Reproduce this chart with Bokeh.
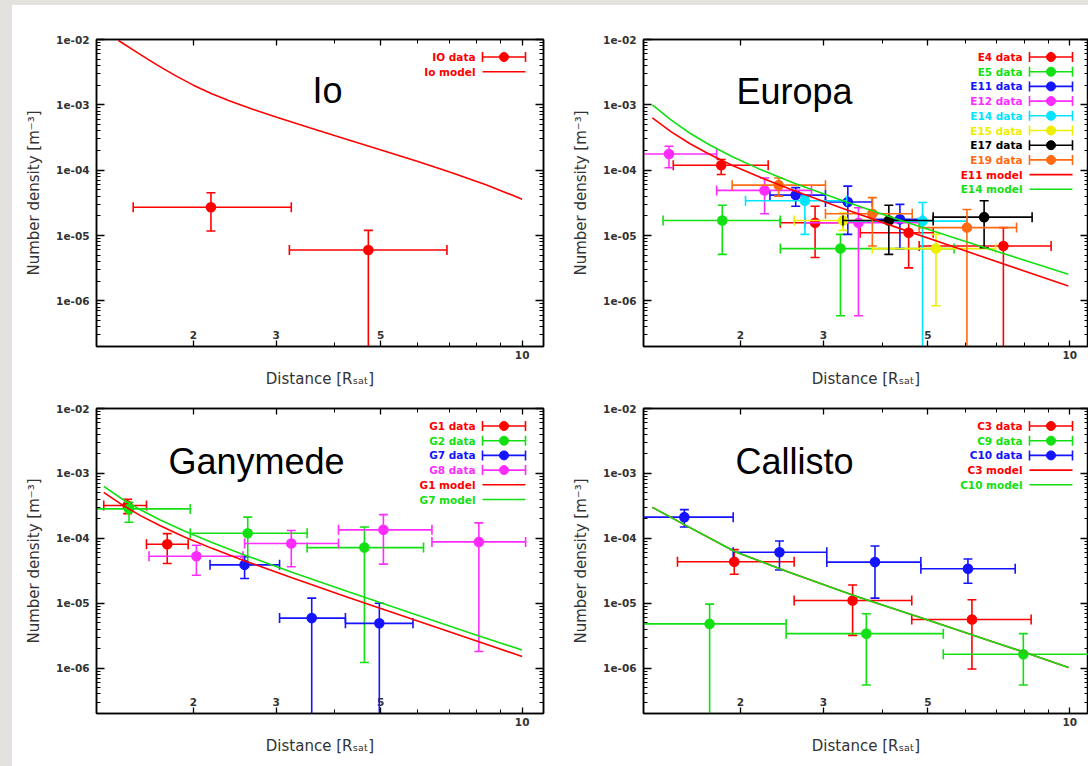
import math
from bokeh.plotting import figure
from bokeh.models import (Range1d, LinearScale, LogAxis, FixedTicker,
                          CustomJSTickFormatter, ColumnDataSource, Div)
from bokeh.layouts import row, column
from bokeh.core.properties import value
from bokeh.embed import file_html
from bokeh.resources import INLINE

# ------------------------------------------------------------------ data
X_START, X_END = 1.245, 11.1
Y_START, Y_END = 2e-7, 1e-2
X_MAJOR = [2, 3, 5, 10]
X_MINOR = [4, 6, 7, 8, 9]
X_INNER_LABELS = [2, 3, 5]
Y_MAJOR = [1e-6, 1e-5, 1e-4, 1e-3, 1e-2]
Y_MINOR = [k * 10.0 ** e for e in range(-7, -2) for k in range(2, 10)]

# --- Io
io_data_x = [2.18, 4.71]
io_data_xlo = [1.49, 3.20]
io_data_xhi = [3.23, 6.92]
io_data_y = [2.7e-5, 6.0e-6]
io_data_ylo = [1.17e-5, 1e-8]
io_data_yhi = [4.5e-5, 1.2e-5]
io_model_x = [1.386, 1.535, 1.670, 1.828, 2.0, 2.188, 2.399, 2.692, 3.02, 3.548,
              4.246, 5.012, 5.957, 7.063, 8.375, 10.0]
io_model_y = [9.66e-3, 6.03e-3, 4.12e-3, 2.82e-3, 2.0e-3, 1.48e-3, 1.135e-3, 8.41e-4,
              6.38e-4, 4.42e-4, 2.95e-4, 2.04e-4, 1.38e-4, 9.2e-5, 6.0e-5, 3.6e-5]

# --- Europa
e4_x = [1.82, 2.88, 4.55, 7.23]
e4_xlo = [1.44, 2.43, 3.59, 4.79]
e4_xhi = [2.29, 3.30, 5.13, 9.13]
e4_y = [1.19e-4, 1.57e-5, 1.10e-5, 6.9e-6]
e4_ylo = [8.6e-5, 4.6e-6, 3.2e-6, 1e-8]
e4_yhi = [1.46e-4, 2.8e-5, 1.66e-5, 1.32e-5]

e5_x = [1.83, 3.26]
e5_xlo = [1.37, 2.43]
e5_xhi = [2.43, 5.68]
e5_y = [1.70e-5, 6.3e-6]
e5_ylo = [5.15e-6, 5.9e-7]
e5_yhi = [2.9e-5, 1.04e-5]

e11_x = [2.62, 3.38, 4.36]
e11_xlo = [2.31, 3.03, 3.81]
e11_xhi = [3.03, 3.81, 4.87]
e11_y = [4.15e-5, 3.25e-5, 1.77e-5]
e11_ylo = [2.8e-5, 1.04e-5, 6.3e-6]
e11_yhi = [5.4e-5, 5.7e-5, 3.0e-5]

e12_x = [1.41, 2.25, 3.56]
e12_xlo = [1.2, 1.78, 2.74]
e12_xhi = [1.78, 2.83, 4.87]
e12_y = [1.77e-4, 4.9e-5, 1.57e-5]
e12_ylo = [1.09e-4, 2.15e-5, 5.9e-7]
e12_yhi = [2.32e-4, 7.6e-5, 2.66e-5]

e14_x = [2.74, 4.87]
e14_xlo = [2.05, 3.30]
e14_xhi = [3.36, 6.05]
e14_y = [3.4e-5, 1.66e-5]
e14_ylo = [1.04e-5, 1e-8]
e14_yhi = [4.0e-5, 3.2e-5]

e15_x = [3.30, 5.20]
e15_xlo = [2.60, 3.81]
e15_xhi = [3.81, 6.96]
e15_y = [1.70e-5, 6.3e-6]
e15_ylo = [1.2e-5, 8.4e-7]
e15_yhi = [2.2e-5, 1.04e-5]

e17_x = [4.13, 6.58]
e17_xlo = [3.30, 5.13]
e17_xhi = [5.13, 8.32]
e17_y = [1.70e-5, 1.91e-5]
e17_ylo = [5.15e-6, 6.5e-6]
e17_yhi = [2.9e-5, 3.4e-5]

e19_x = [2.41, 3.81, 6.05]
e19_xlo = [1.92, 3.03, 4.79]
e19_xhi = [3.03, 4.63, 7.71]
e19_y = [5.9e-5, 2.15e-5, 1.32e-5]
e19_ylo = [4.0e-5, 6.9e-6, 1e-8]
e19_yhi = [7.6e-5, 3.8e-5, 2.5e-5]

e11_model_x = [1.300, 1.426, 1.563, 1.714, 1.923, 2.208, 2.594, 3.266, 4.305, 5.808, 7.834, 9.931]
e11_model_y = [6.31e-4, 3.86e-4, 2.54e-4, 1.77e-4, 1.18e-4, 7.71e-5, 4.89e-5, 2.66e-5,
               1.32e-5, 6.30e-6, 3.02e-6, 1.69e-6]
e14_model_x = [1.300, 1.426, 1.563, 1.714, 1.923, 2.208, 2.594, 3.266, 4.305, 5.808, 7.834, 9.931]
e14_model_y = [1.0e-3, 5.82e-4, 3.67e-4, 2.47e-4, 1.60e-4, 1.02e-4, 6.37e-5, 3.48e-5,
               1.77e-5, 8.79e-6, 4.41e-6, 2.56e-6]

# --- Ganymede
g1_x = [1.45, 1.76]
g1_xlo = [1.29, 1.59]
g1_xhi = [1.59, 1.95]
g1_y = [3.2e-4, 8.1e-5]
g1_ylo = [2.4e-4, 4.1e-5]
g1_yhi = [4.0e-4, 1.18e-4]

g2_x = [1.46, 2.61, 4.62]
g2_xlo = [1.2, 1.97, 3.49]
g2_xhi = [1.97, 3.49, 6.17]
g2_y = [2.84e-4, 1.2e-4, 7.2e-5]
g2_ylo = [1.77e-4, 3.9e-5, 1.22e-6]
g2_yhi = [3.6e-4, 2.12e-4, 1.49e-4]

g7_x = [2.57, 3.57, 4.97]
g7_xlo = [2.17, 3.05, 4.21]
g7_xhi = [3.05, 4.21, 5.86]
g7_y = [3.9e-5, 5.9e-6, 4.9e-6]
g7_ylo = [2.4e-5, 1e-8, 1e-8]
g7_yhi = [5.2e-5, 1.2e-5, 1.0e-5]

g8_x = [2.03, 3.23, 5.07, 8.09]
g8_xlo = [1.61, 2.57, 4.07, 6.43]
g8_xhi = [2.55, 4.07, 6.43, 10.17]
g8_y = [5.3e-5, 8.3e-5, 1.35e-4, 8.8e-5]
g8_ylo = [2.7e-5, 3.65e-5, 4.0e-5, 1.8e-6]
g8_yhi = [7.8e-5, 1.32e-4, 2.32e-4, 1.73e-4]

g1_model_x = [1.290, 1.414, 1.551, 1.701, 1.909, 2.191, 2.574, 3.240, 4.272, 5.762, 7.774, 10.0]
g1_model_y = [5.1e-4, 3.24e-4, 2.20e-4, 1.56e-4, 1.06e-4, 7.0e-5, 4.49e-5, 2.46e-5,
              1.23e-5, 5.85e-6, 2.80e-6, 1.51e-6]
g7_model_x = [1.290, 1.414, 1.551, 1.701, 1.909, 2.191, 2.574, 3.240, 4.272, 5.762, 7.774, 10.0]
g7_model_y = [6.3e-4, 4.0e-4, 2.7e-4, 1.92e-4, 1.31e-4, 8.6e-5, 5.5e-5, 3.0e-5,
              1.5e-5, 7.2e-6, 3.45e-6, 1.9e-6]

# --- Callisto
c3_x = [1.94, 3.46, 6.20]
c3_xlo = [1.47, 2.60, 4.62]
c3_xhi = [2.60, 4.62, 8.28]
c3_y = [4.35e-5, 1.10e-5, 5.6e-6]
c3_ylo = [2.8e-5, 3.2e-6, 9.7e-7]
c3_yhi = [6.7e-5, 1.91e-5, 1.13e-5]

c9_x = [1.72, 3.70, 7.97]
c9_xlo = [1.2, 2.50, 5.39]
c9_xhi = [2.50, 5.39, 12.0]
c9_y = [4.8e-6, 3.4e-6, 1.64e-6]
c9_ylo = [1e-8, 5.5e-7, 5.5e-7]
c9_yhi = [9.7e-6, 6.9e-6, 3.4e-6]

c10_x = [1.52, 2.42, 3.86, 6.08]
c10_xlo = [1.2, 1.93, 3.05, 4.83]
c10_xhi = [1.93, 3.05, 4.83, 7.66]
c10_y = [2.12e-4, 6.1e-5, 4.3e-5, 3.4e-5]
c10_ylo = [1.49e-4, 3.25e-5, 1.2e-5, 2.03e-5]
c10_yhi = [2.77e-4, 9.1e-5, 7.6e-5, 4.8e-5]

c3_model_x = [1.30, 1.51, 1.95, 2.52, 3.53, 4.96, 6.96, 8.24, 9.94]
c3_model_y = [3.0e-4, 1.67e-4, 6.2e-5, 3.06e-5, 1.27e-5, 5.6e-6, 2.47e-6, 1.64e-6, 1.02e-6]
c10_model_x = [1.30, 1.51, 1.95, 2.52, 3.53, 4.96, 6.96, 8.24, 9.94]
c10_model_y = [3.0e-4, 1.67e-4, 6.2e-5, 3.06e-5, 1.27e-5, 5.6e-6, 2.47e-6, 1.64e-6, 1.02e-6]

# ------------------------------------------------------------------ style
RED, GREEN, BLUE = "#ff0000", "#12e012", "#1414ff"
MAGENTA, CYAN, YELLOW = "#ff2cff", "#00e4ff", "#eeee00"
BLACK, ORANGE = "#000000", "#ff6a12"
GRAY_BG = "#e4e2de"
TICK_FONT = "DejaVu Sans"

Y_FMT = """
const e = Math.round(Math.log10(tick));
const a = Math.abs(e);
return "1e" + (e < 0 ? "-" : "+") + (a < 10 ? "0" + a : "" + a);
"""


def style_axis(ax, tin, tmin):
    ax.axis_line_color = "black"
    ax.axis_line_width = 1.5
    ax.major_tick_in = tin
    ax.major_tick_out = 0
    ax.minor_tick_in = tmin
    ax.minor_tick_out = 0
    ax.major_tick_line_color = "black"
    ax.minor_tick_line_color = "black"
    ax.major_tick_line_width = 1.3
    ax.minor_tick_line_width = 1.0
    ax.major_label_text_font = TICK_FONT
    ax.major_label_text_font_size = "10.5px"
    ax.major_label_text_font_style = "bold"
    ax.major_label_text_color = "#333333"


def draw_series(p, x, xlo, xhi, y, ylo, yhi, color):
    src = ColumnDataSource(dict(x=x, xlo=xlo, xhi=xhi, y=y, ylo=ylo, yhi=yhi))
    kw = dict(source=src, line_color=color, line_width=1.6)
    p.segment(x0="xlo", y0="y", x1="xhi", y1="y", **kw)
    p.segment(x0="x", y0="ylo", x1="x", y1="yhi", **kw)
    p.scatter(x="xlo", y="y", marker="dash", angle=math.pi / 2, size=10, **kw)
    p.scatter(x="xhi", y="y", marker="dash", angle=math.pi / 2, size=10, **kw)
    p.scatter(x="x", y="ylo", marker="dash", size=9, **kw)
    p.scatter(x="x", y="yhi", marker="dash", size=9, **kw)
    p.scatter(x="x", y="y", marker="circle", size=9, fill_color=color, **kw)


# legend geometry (pixels inside the frame, from its left / top edge)
LEG_TX, LEG_C0, LEG_C1, LEG_Y0, LEG_DY = 379, 386, 429, 17.5, 14.7


def make_panel(width, height, mbl, mbr, mbt, mbb, x_end, title, tx, ty,
               data, models):
    fw = width - mbl - mbr
    fh = height - mbt - mbb
    p = figure(width=width, height=height, x_axis_type="log", y_axis_type="log",
               x_range=Range1d(X_START, x_end), y_range=Range1d(Y_START, Y_END),
               output_backend="svg", toolbar_location=None,
               min_border_left=mbl, min_border_right=mbr,
               min_border_top=mbt, min_border_bottom=mbb,
               x_axis_label="Distance [Rₛₐₜ]",
               y_axis_label="Number density [m⁻³]")
    p.extra_x_ranges = {"px": Range1d(0, fw)}
    p.extra_y_ranges = {"py": Range1d(fh, 0)}
    p.extra_x_scales = {"px": LinearScale()}
    p.extra_y_scales = {"py": LinearScale()}
    p.xgrid.visible = False
    p.ygrid.visible = False
    p.background_fill_color = "white"
    p.border_fill_color = "white"
    p.outline_line_color = "black"
    p.outline_line_width = 1.5

    xt = FixedTicker(ticks=X_MAJOR, minor_ticks=X_MINOR)
    yt = FixedTicker(ticks=Y_MAJOR, minor_ticks=Y_MINOR)
    xb = p.xaxis[0]
    yl = p.yaxis[0]
    xb.ticker = xt
    yl.ticker = yt
    xb.formatter = CustomJSTickFormatter(code="return tick == 10 ? '10' : '';")
    yl.formatter = CustomJSTickFormatter(code=Y_FMT)
    style_axis(xb, 6, 4)
    style_axis(yl, 8, 4)
    xb.major_label_standoff = 4
    yl.major_label_standoff = 7
    for ax in (xb, yl):
        ax.axis_label_text_font = TICK_FONT
        ax.axis_label_text_font_size = "15px"
        ax.axis_label_text_font_style = "normal"
        ax.axis_label_text_color = "#333333"
    xb.axis_label_standoff = 8
    yl.axis_label_standoff = 10

    top = LogAxis(ticker=xt, formatter=CustomJSTickFormatter(code="return '';"))
    right = LogAxis(ticker=yt, formatter=CustomJSTickFormatter(code="return '';"))
    for ax, tin in ((top, 6), (right, 8)):
        style_axis(ax, tin, 4)
        ax.major_label_text_font_size = "0px"
        ax.major_label_standoff = 0
    p.add_layout(top, "above")
    p.add_layout(right, "right")

    # tick labels that gnuplot put inside the frame
    p.text(x=X_INNER_LABELS, y=[fh - 12] * len(X_INNER_LABELS),
           text=[str(v) for v in X_INNER_LABELS], y_range_name="py",
           text_align="center", text_baseline="middle",
           text_font=value(TICK_FONT), text_font_size="10.5px",
           text_font_style="bold", text_color="#333333")

    for name, color, series in data:
        draw_series(p, *series, color)
    for name, color, (mx, my) in models:
        p.line(mx, my, line_color=color, line_width=1.6)

    # gnuplot-style key
    entries = [(n, c, "data") for n, c, _ in data] + [(n, c, "model") for n, c, _ in models]
    for i, (name, color, kind) in enumerate(entries):
        yy = LEG_Y0 + i * LEG_DY
        p.text(x=[LEG_TX], y=[yy], text=[name], x_range_name="px", y_range_name="py",
               text_align="right", text_baseline="middle", text_color=color,
               text_font=value(TICK_FONT), text_font_size="10.5px", text_font_style="bold")
        p.segment(x0=[LEG_C0], y0=[yy], x1=[LEG_C1], y1=[yy], x_range_name="px",
                  y_range_name="py", line_color=color, line_width=1.6)
        if kind == "data":
            p.scatter(x=[LEG_C0, LEG_C1], y=[yy, yy], marker="dash", angle=math.pi / 2,
                      size=10, line_color=color, line_width=1.6,
                      x_range_name="px", y_range_name="py")
            p.scatter(x=[(LEG_C0 + LEG_C1) / 2], y=[yy], marker="circle", size=9,
                      line_color=color, fill_color=color,
                      x_range_name="px", y_range_name="py")

    p.text(x=[tx], y=[ty], text=[title], x_range_name="px", y_range_name="py",
           text_align="center", text_baseline="alphabetic", text_color="black",
           text_font=value("Liberation Sans"), text_font_size="36px")
    return p


io = make_panel(538, 385, 84, 7, 34, 44, X_END, "Io", 231, 51,
                [("IO data", RED, (io_data_x, io_data_xlo, io_data_xhi, io_data_y, io_data_ylo, io_data_yhi))],
                [("Io model", RED, (io_model_x, io_model_y))])

europa = make_panel(538, 385, 93, 0, 34, 44, 10.96, "Europa", 151, 52,
                    [("E4 data", RED, (e4_x, e4_xlo, e4_xhi, e4_y, e4_ylo, e4_yhi)),
                     ("E5 data", GREEN, (e5_x, e5_xlo, e5_xhi, e5_y, e5_ylo, e5_yhi)),
                     ("E11 data", BLUE, (e11_x, e11_xlo, e11_xhi, e11_y, e11_ylo, e11_yhi)),
                     ("E12 data", MAGENTA, (e12_x, e12_xlo, e12_xhi, e12_y, e12_ylo, e12_yhi)),
                     ("E14 data", CYAN, (e14_x, e14_xlo, e14_xhi, e14_y, e14_ylo, e14_yhi)),
                     ("E15 data", YELLOW, (e15_x, e15_xlo, e15_xhi, e15_y, e15_ylo, e15_yhi)),
                     ("E17 data", BLACK, (e17_x, e17_xlo, e17_xhi, e17_y, e17_ylo, e17_yhi)),
                     ("E19 data", ORANGE, (e19_x, e19_xlo, e19_xhi, e19_y, e19_ylo, e19_yhi))],
                    [("E11 model", RED, (e11_model_x, e11_model_y)),
                     ("E14 model", GREEN, (e14_model_x, e14_model_y))])

ganymede = make_panel(538, 376, 84, 7, 18, 53, X_END, "Ganymede", 160, 53,
                      [("G1 data", RED, (g1_x, g1_xlo, g1_xhi, g1_y, g1_ylo, g1_yhi)),
                       ("G2 data", GREEN, (g2_x, g2_xlo, g2_xhi, g2_y, g2_ylo, g2_yhi)),
                       ("G7 data", BLUE, (g7_x, g7_xlo, g7_xhi, g7_y, g7_ylo, g7_yhi)),
                       ("G8 data", MAGENTA, (g8_x, g8_xlo, g8_xhi, g8_y, g8_ylo, g8_yhi))],
                      [("G1 model", RED, (g1_model_x, g1_model_y)),
                       ("G7 model", GREEN, (g7_model_x, g7_model_y))])

callisto = make_panel(538, 376, 93, 0, 18, 53, 10.96, "Callisto", 151, 53,
                      [("C3 data", RED, (c3_x, c3_xlo, c3_xhi, c3_y, c3_ylo, c3_yhi)),
                       ("C9 data", GREEN, (c9_x, c9_xlo, c9_xhi, c9_y, c9_ylo, c9_yhi)),
                       ("C10 data", BLUE, (c10_x, c10_xlo, c10_xhi, c10_y, c10_ylo, c10_yhi))],
                      [("C3 model", RED, (c3_model_x, c3_model_y)),
                       ("C10 model", GREEN, (c10_model_x, c10_model_y))])

left_strip = Div(text="", width=12, height=766, margin=0,
                 styles={"background-color": GRAY_BG})
top_strip = Div(text="", width=1076, height=5, margin=0,
                styles={"background-color": GRAY_BG})

layout = row(left_strip,
             column(top_strip, row(io, europa), row(ganymede, callisto)))

open("out.html", "w").write(file_html(layout, INLINE))
